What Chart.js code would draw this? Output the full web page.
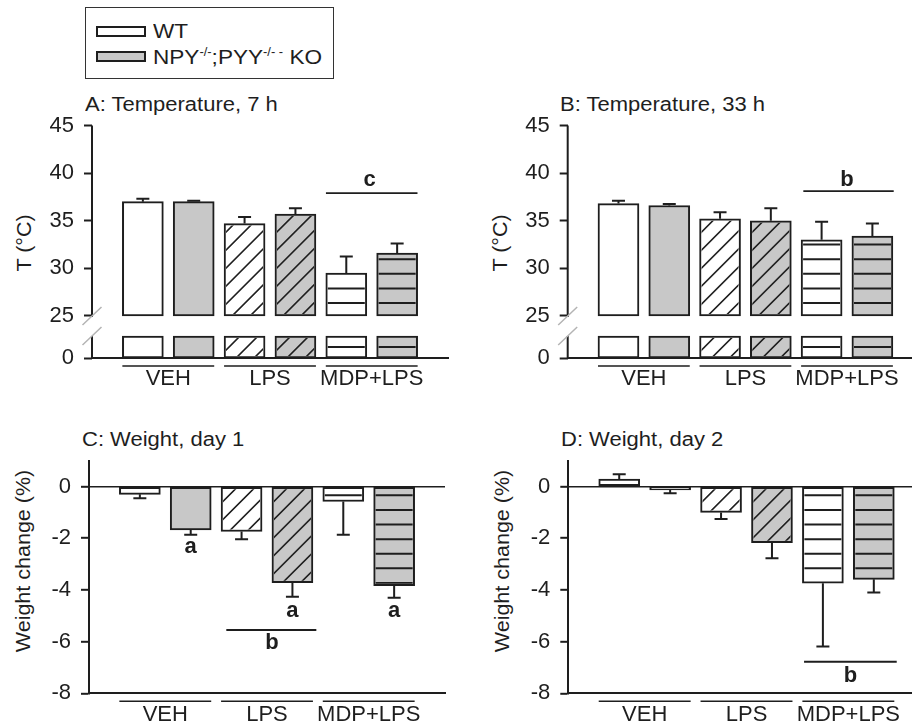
<!DOCTYPE html>
<html>
<head>
<meta charset="utf-8">
<script src="https://cdn.jsdelivr.net/npm/chart.js@4.4.1/dist/chart.umd.min.js"></script>
<style>
  body { margin: 0; background: #fff; }
  #fig { position: relative; width: 912px; height: 725px; overflow: hidden;
         font-family: Arial, "Liberation Sans", sans-serif; color: #1e1e1e; }
  canvas { position: absolute; }
  .txt { position: absolute; font-size: 20px; line-height: 20px; white-space: nowrap;
         transform-origin: 0 0; transform: scaleX(1.1); }
  .ytitle { position: absolute; font-size: 20px; line-height: 20px; white-space: nowrap;
            transform: translate(-50%, -50%) rotate(-90deg) scaleX(1.075); }
  #legend { position: absolute; left: 85px; top: 7px; width: 247px; height: 70px;
            border: 1px solid #333; }
  #legend .txt { font-size: 21px; transform: scaleX(1.075); }
  .sw { position: absolute; left: 10px; width: 50px; height: 11px; box-sizing: border-box;
        border: 2px solid #1e1e1e; }
  .sup { font-size: 12px; position: relative; top: -8px; }
</style>
</head>
<body>
<div id="fig">
  <div id="legend">
    <div class="sw" style="top:18px; background:#fff"></div>
    <div class="txt" style="left:67px; top:13px">WT</div>
    <div class="sw" style="top:43px; background:#c8c8c8"></div>
    <div class="txt" style="left:67px; top:39px">NPY<span class="sup">-/-</span>;PYY<span class="sup">-/- -</span> KO</div>
  </div>

  <div class="txt" style="left:85px; top:94px">A: Temperature, 7 h</div>
  <div class="txt" style="left:560px; top:94px">B: Temperature, 33 h</div>
  <div class="txt" style="left:82px; top:429px">C: Weight, day 1</div>
  <div class="txt" style="left:561px; top:429px">D: Weight, day 2</div>

  <div class="ytitle" style="left:24px; top:243px">T (°C)</div>
  <div class="ytitle" style="left:500px; top:243px">T (°C)</div>
  <div class="ytitle" style="left:23px; top:561px">Weight change (%)</div>
  <div class="ytitle" style="left:502px; top:561px">Weight change (%)</div>

  <canvas id="cA" width="456" height="310" style="left:0px; top:90px"></canvas>
  <canvas id="cB" width="456" height="310" style="left:456px; top:90px"></canvas>
  <canvas id="cC" width="456" height="300" style="left:0px; top:425px"></canvas>
  <canvas id="cD" width="456" height="300" style="left:456px; top:425px"></canvas>
</div>

<script>
// --- Data (bars in order: WT, KO for each treatment group) ---
const groups = ['VEH', 'LPS', 'MDP+LPS'];

const temp7h     = [37.0, 37.0, 34.7, 35.7, 29.5, 31.6];
const temp7hSem  = [0.3, 0.1, 0.7, 0.6, 1.75, 1.0];
const temp33h    = [36.8, 36.6, 35.2, 35.0, 33.0, 33.4];
const temp33hSem = [0.3, 0.15, 0.7, 1.3, 1.9, 1.3];

const weightDay1    = [-0.30, -1.68, -1.74, -3.72, -0.58, -3.84];
const weightDay1Sem = [0.15, 0.19, 0.30, 0.54, 1.29, 0.46];
const weightDay2    = [0.29, -0.13, -1.00, -2.17, -3.74, -3.59];
const weightDay2Sem = [0.19, 0.13, 0.26, 0.60, 2.45, 0.51];

const tempTicks   = [25, 30, 35, 40, 45];
const weightTicks = [-8, -6, -4, -2, 0];

// significance marks (x in bar index units, y in axis units)
const sig7h  = { lines: [{ from: 3.6, to: 5.4, y: 37.9 }],  letters: [{ text: 'c', x: 4.46, y: 39.3 }] };
const sig33h = { lines: [{ from: 3.64, to: 5.42, y: 38.1 }], letters: [{ text: 'b', x: 4.5, y: 39.3 }] };
const sigDay1 = {
  lines: [{ from: 1.7, to: 3.47, y: -5.55 }],
  letters: [{ text: 'a', x: 1, y: -2.32 }, { text: 'a', x: 3, y: -4.83 }, { text: 'a', x: 5, y: -4.83 }, { text: 'b', x: 2.6, y: -6.06 }]
};
const sigDay2 = { lines: [{ from: 3.63, to: 5.45, y: -6.78 }], letters: [{ text: 'b', x: 4.54, y: -7.33 }] };

// --- Broken temperature axis: where "0" and the stub top sit on the virtual scale ---
const T_BREAK = 25;
const AXIS_ZERO = 20.59;
const STUB_TOP = 22.9;

const INK = '#1e1e1e';
const FILLS = ['#ffffff', '#c8c8c8'];
const HATCH = [null, 'diag', 'horiz'];
const BAR_W = 41;
const FONT = { family: 'Arial, "Liberation Sans", sans-serif', size: 22 };

const barFill = i => FILLS[i % 2];
const barHatch = i => HATCH[Math.floor(i / 2)];

// --- Plugins ---
const hatchPlugin = {
    id: 'hatch',
    afterDatasetDraw(chart, args) {
        const ds = chart.data.datasets[args.index];
        if (!ds.hatch) return;
        const ctx = chart.ctx;
        args.meta.data.forEach((el, i) => {
            const kind = barHatch(i);
            if (!kind) return;
            const { x, y, base, width } = el.getProps(['x', 'y', 'base', 'width'], true);
            const b = 2;
            const left = x - width / 2 + b, right = x + width / 2 - b;
            const top = Math.min(y, base) + b, bottom = Math.max(y, base) - b;
            if (bottom <= top) return;
            const dir = y < base ? -1 : 1;
            ctx.save();
            ctx.beginPath();
            ctx.rect(left, top, right - left, bottom - top);
            ctx.clip();
            ctx.strokeStyle = INK;
            ctx.beginPath();
            if (kind === 'horiz') {
                ctx.lineWidth = 2;
                for (let d = ds.hatch.horiz; d < Math.abs(base - y); d += 14.6) {
                    const py = base + dir * d;
                    ctx.moveTo(left - 2, py);
                    ctx.lineTo(right + 2, py);
                }
            } else {
                ctx.lineWidth = 1.6;
                const x0 = x - width / 2;
                for (let k = -14; k <= 14; k++) {
                    const y0 = base + dir * (ds.hatch.diag + k * 18);
                    ctx.moveTo(x0 - 120, y0 + 120);
                    ctx.lineTo(x0 + 120, y0 - 120);
                }
            }
            ctx.stroke();
            ctx.restore();
        });
    }
};

const decorPlugin = {
    id: 'decor',
    afterDatasetsDraw(chart, args, opts) {
        const ctx = chart.ctx;
        const xs = chart.scales.x, ys = chart.scales.y;
        const area = chart.chartArea;
        ctx.save();
        ctx.strokeStyle = INK;
        ctx.fillStyle = INK;

        // error bars
        chart.data.datasets.forEach((ds, di) => {
            if (!ds.sem) return;
            const meta = chart.getDatasetMeta(di);
            meta.data.forEach((el, i) => {
                const v = ds.means[i];
                const end = v >= ds.errRef ? v + ds.sem[i] : v - ds.sem[i];
                const py = ys.getPixelForValue(end);
                ctx.lineWidth = 2;
                ctx.beginPath();
                ctx.moveTo(el.x, el.y);
                ctx.lineTo(el.x, py);
                ctx.moveTo(el.x - 6.5, py);
                ctx.lineTo(el.x + 6.5, py);
                ctx.stroke();
            });
        });

        // broken y axis
        if (opts.broken) {
            const ax = area.left;
            const p25 = ys.getPixelForValue(T_BREAK);
            const pStub = ys.getPixelForValue(STUB_TOP);
            ctx.lineWidth = 2;
            ctx.beginPath();
            ctx.moveTo(ax, ys.getPixelForValue(ys.max));
            ctx.lineTo(ax, p25 + 1);
            ctx.moveTo(ax, pStub);
            ctx.lineTo(ax, area.bottom);
            ctx.stroke();
            ctx.strokeStyle = '#b4b4b4';
            ctx.lineWidth = 1.5;
            ctx.beginPath();
            [p25, pStub].forEach(p => {
                ctx.moveTo(ax - 9.5, p + 9);
                ctx.lineTo(ax + 9.5, p - 9);
            });
            ctx.stroke();
            ctx.strokeStyle = INK;
        }

        // group underlines
        ctx.lineWidth = 1.6;
        ctx.beginPath();
        groups.forEach((g, k) => {
            const yl = area.bottom + 8;
            ctx.moveTo(xs.getPixelForValue(2 * k) - BAR_W / 2, yl);
            ctx.lineTo(xs.getPixelForValue(2 * k + 1) + BAR_W / 2, yl);
        });
        ctx.stroke();

        // significance marks
        const sig = opts.sig;
        ctx.lineWidth = 1.8;
        ctx.beginPath();
        sig.lines.forEach(l => {
            const py = ys.getPixelForValue(l.y);
            ctx.moveTo(xs.getPixelForValue(l.from), py);
            ctx.lineTo(xs.getPixelForValue(l.to), py);
        });
        ctx.stroke();
        ctx.font = 'bold 22px Arial, "Liberation Sans", sans-serif';
        ctx.textAlign = 'center';
        ctx.textBaseline = 'middle';
        sig.letters.forEach(t => {
            ctx.fillText(t.text, xs.getPixelForValue(t.x), ys.getPixelForValue(t.y));
        });
        ctx.restore();
    }
};

// --- Chart builders ---
function xScale(geom) {
    return {
        type: 'linear', min: -1, max: geom.xMax, offset: false,
        afterBuildTicks: s => { s.ticks = groups.map((g, k) => ({ value: 2 * k + 0.5 })); },
        ticks: { callback: (v, i) => groups[i], font: FONT, color: INK, padding: geom.labelPad,
                 maxRotation: 0, autoSkip: false },
        grid: { display: false, drawTicks: false },
        border: { display: true, color: INK, width: 2 },
        afterFit: s => { s.height = geom.xHeight; }
    };
}

function barStyle(extra) {
    return Object.assign({
        borderColor: INK, borderWidth: 2, borderSkipped: false,
        barThickness: BAR_W, grouped: false
    }, extra);
}

function tempChart(id, means, sem, sig, geom) {
    new Chart(document.getElementById(id), {
        type: 'bar',
        data: {
            datasets: [
                barStyle({
                    data: means.map((v, i) => ({ x: i, y: [AXIS_ZERO, STUB_TOP] })),
                    backgroundColor: means.map((v, i) => barFill(i)),
                    hatch: { horiz: 11, diag: 6 }
                }),
                barStyle({
                    data: means.map((v, i) => ({ x: i, y: [T_BREAK, v] })),
                    backgroundColor: means.map((v, i) => barFill(i)),
                    hatch: { horiz: 13, diag: 10 },
                    means, sem, errRef: T_BREAK
                })
            ]
        },
        options: {
            responsive: false, animation: false, devicePixelRatio: 1,
            layout: { padding: { left: 0, right: geom.padRight, top: geom.padTop, bottom: 0 } },
            plugins: { legend: { display: false }, tooltip: { enabled: false },
                       decor: { sig, broken: true } },
            scales: {
                x: xScale(geom),
                y: {
                    min: AXIS_ZERO, max: 45,
                    afterBuildTicks: s => { s.ticks = [AXIS_ZERO, ...tempTicks].map(v => ({ value: v })); },
                    ticks: { callback: v => (v < T_BREAK ? '0' : String(v)), font: FONT, color: INK, padding: 10 },
                    grid: { drawOnChartArea: false, tickLength: 8, tickWidth: 2, tickColor: INK },
                    border: { display: false },
                    afterFit: s => { s.width = geom.yWidth; }
                }
            }
        },
        plugins: [hatchPlugin, decorPlugin]
    });
}

function weightChart(id, means, sem, sig, geom) {
    new Chart(document.getElementById(id), {
        type: 'bar',
        data: {
            datasets: [
                barStyle({
                    data: means.map((v, i) => ({ x: i, y: v })),
                    backgroundColor: means.map((v, i) => barFill(i)),
                    hatch: { horiz: 8, diag: 16 },
                    means, sem, errRef: 0
                })
            ]
        },
        options: {
            responsive: false, animation: false, devicePixelRatio: 1,
            layout: { padding: { left: 0, right: geom.padRight, top: geom.padTop, bottom: 0 } },
            plugins: { legend: { display: false }, tooltip: { enabled: false },
                       decor: { sig, broken: false } },
            scales: {
                x: xScale(geom),
                y: {
                    min: -8, max: 1,
                    afterBuildTicks: s => { s.ticks = weightTicks.map(v => ({ value: v })); },
                    ticks: { font: FONT, color: INK, padding: 10 },
                    grid: {
                        drawOnChartArea: true, tickLength: 8, tickWidth: 2, tickColor: INK,
                        color: c => (c.tick && c.tick.value === 0 ? INK : 'rgba(0,0,0,0)'),
                        lineWidth: 1.6
                    },
                    border: { display: true, color: INK, width: 2 },
                    afterFit: s => { s.width = geom.yWidth; }
                }
            }
        },
        plugins: [hatchPlugin, decorPlugin]
    });
}

tempChart('cA', temp7h, temp7hSem, sig7h,
    { yWidth: 92, padTop: 35.5, padRight: 8, xHeight: 42, xMax: 6, labelPad: 8 });
tempChart('cB', temp33h, temp33hSem, sig33h,
    { yWidth: 111.7, padTop: 35.5, padRight: 0, xHeight: 42, xMax: 5.78, labelPad: 8 });
weightChart('cC', weightDay1, weightDay1Sem, sigDay1,
    { yWidth: 89, padTop: 35.7, padRight: 11, xHeight: 31.7, xMax: 6, labelPad: 8 });
weightChart('cD', weightDay2, weightDay2Sem, sigDay2,
    { yWidth: 112.3, padTop: 35.7, padRight: 0, xHeight: 31.7, xMax: 5.75, labelPad: 8 });
</script>
</body>
</html>
